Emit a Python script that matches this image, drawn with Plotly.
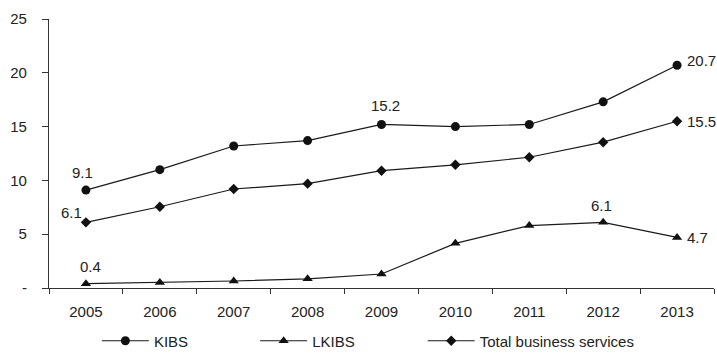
import plotly.graph_objects as go

years = ["2005", "2006", "2007", "2008", "2009", "2010", "2011", "2012", "2013"]
kibs = [9.1, 11.0, 13.2, 13.7, 15.2, 15.0, 15.2, 17.3, 20.7]
lkibs = [0.4, 0.5, 0.65, 0.85, 1.3, 4.15, 5.8, 6.1, 4.7]
total = [6.1, 7.55, 9.2, 9.7, 10.9, 11.45, 12.15, 13.55, 15.5]

y_ticks = [0, 5, 10, 15, 20, 25]
y_tick_text = ["-", "5", "10", "15", "20", "25"]

FONT = "Liberation Sans, Arial, sans-serif"
LINE = "#1a1a1a"

fig = go.Figure()

series = [
    ("KIBS", kibs, "circle", 9, "legend"),
    ("LKIBS", lkibs, "triangle-up", 9, "legend2"),
    ("Total business services", total, "diamond", 8, "legend3"),
]
for name, vals, sym, size, leg in series:
    fig.add_trace(go.Scatter(
        x=years, y=vals, name=name, mode="lines+markers",
        line=dict(color=LINE, width=1.2),
        marker=dict(symbol=sym, size=size, color="#111111"),
        legend=leg,
    ))

# value labels: (series values, year index, xanchor, xshift, yshift)
labels = [
    (kibs, 0, "center", -3, 18),
    (kibs, 4, "center", 4, 19),
    (kibs, 8, "left", 8, 5),
    (total, 0, "right", -2, 10),
    (total, 8, "left", 8, 0),
    (lkibs, 0, "center", 5, 17),
    (lkibs, 7, "center", -2, 17),
    (lkibs, 8, "left", 8, 0),
]
for vals, i, xa, xs, ys in labels:
    # category axis: annotation x is the category's serial index
    fig.add_annotation(
        x=i, y=vals[i], xref="x", yref="y",
        text=f"{vals[i]:.1f}", showarrow=False,
        xanchor=xa, yanchor="middle", xshift=xs, yshift=ys,
        font=dict(family=FONT, size=15, color="#222222"),
    )

leg_common = dict(
    orientation="h", yanchor="middle", y=-0.197, xanchor="left",
    font=dict(family=FONT, size=15, color="#222222"),
    bgcolor="rgba(0,0,0,0)", itemwidth=47,
)
fig.update_layout(
    width=717, height=361,
    margin=dict(l=49, r=3, t=19, b=73),
    paper_bgcolor="white", plot_bgcolor="white",
    font=dict(family=FONT, size=15, color="#222222"),
    legend=dict(x=0.072, **leg_common),
    legend2=dict(x=0.31, **leg_common),
    legend3=dict(x=0.562, **leg_common),
    xaxis=dict(
        type="category", range=[-0.5, 8.5],
        showline=True, linecolor="#333333", linewidth=1.2,
        ticks="outside", tickson="boundaries", ticklen=5,
        tickcolor="#333333", showgrid=False, zeroline=False,
        ticklabelstandoff=10,
    ),
    yaxis=dict(
        range=[0, 25], tickvals=y_ticks, ticktext=y_tick_text,
        showline=True, linecolor="#333333", linewidth=1.2,
        ticks="outside", ticklen=6, tickcolor="#333333",
        showgrid=False, zeroline=False, ticklabelstandoff=12,
    ),
    showlegend=True,
)

fig.write_html("out.html")
